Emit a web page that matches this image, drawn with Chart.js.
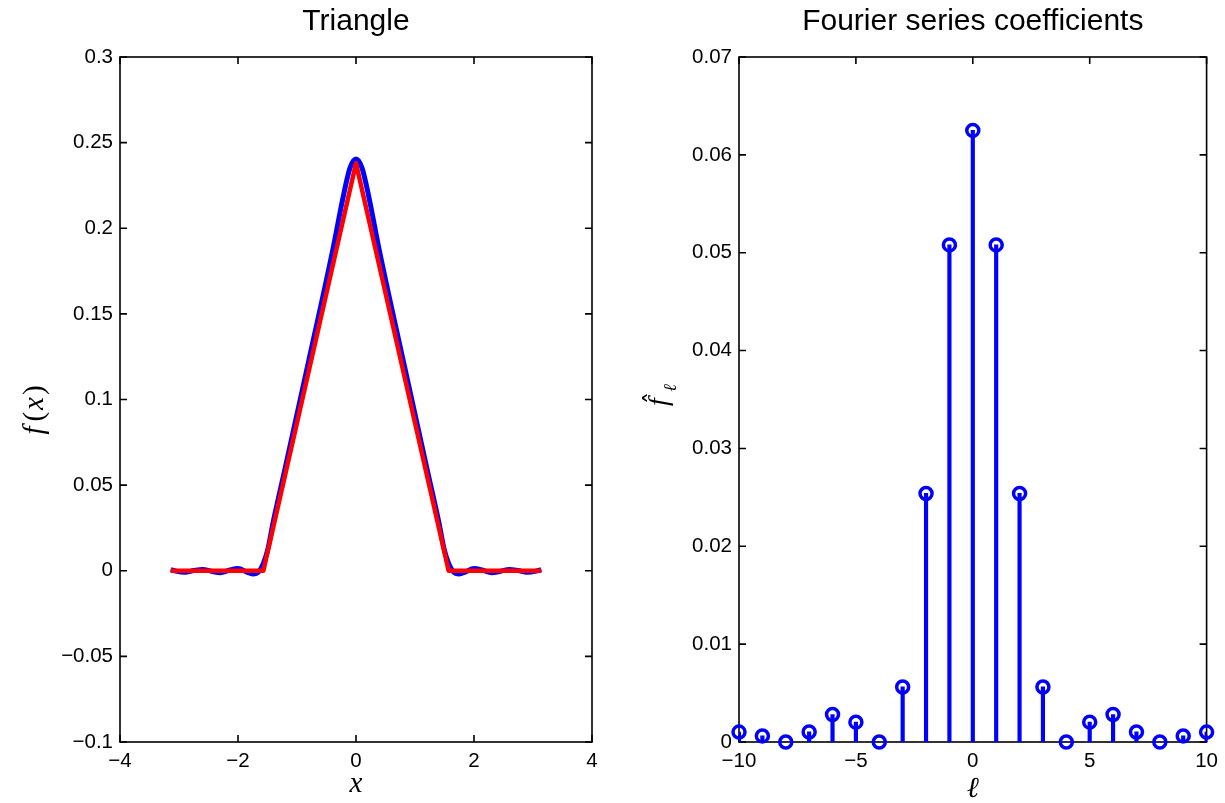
<!DOCTYPE html>
<html>
<head>
<meta charset="utf-8">
<script src="https://cdn.jsdelivr.net/npm/chart.js@4.4.1/dist/chart.umd.min.js"></script>
<style>
  body { margin: 0; background: #fff; }
  canvas { position: absolute; top: 0; }
  #left { left: 0; }
  #right { left: 612px; }
</style>
</head>
<body>
<canvas id="left" width="612" height="803"></canvas>
<canvas id="right" width="613" height="803"></canvas>
<script>
// --- values ---
// left panel: truncated Fourier series (blue) and the triangle itself (red)
const curveX = [-3.14, -3.05, -2.9, -2.75, -2.6, -2.45, -2.3, -2.15, -2.0, -1.85, -1.75, -1.65, -1.57, -1.5, -1.4, -1.2, -0.8, -0.4, -0.2, -0.1, 0,
                0.1, 0.2, 0.4, 0.8, 1.2, 1.4, 1.5, 1.57, 1.65, 1.75, 1.85, 2.0, 2.15, 2.3, 2.45, 2.6, 2.75, 2.9, 3.05, 3.14];
const curveY = [0.0007, -0.0002, -0.0009, 0.0001, 0.0008, -0.0003, -0.0011, 0.0003, 0.0013, -0.0008, -0.0019, -0.0006, 0.0043, 0.0117, 0.029, 0.060, 0.1227, 0.1863, 0.2212, 0.2354, 0.2404,
                0.2354, 0.2212, 0.1863, 0.1227, 0.060, 0.029, 0.0117, 0.0043, -0.0006, -0.0019, -0.0008, 0.0013, 0.0003, -0.0011, -0.0003, 0.0008, 0.0001, -0.0009, -0.0002, 0.0007];
const triX = [-3.14, -1.57, 0, 1.57, 3.14];
const triY = [0, 0, 0.238, 0, 0];

// right panel: Fourier coefficients
const ells = [-10, -9, -8, -7, -6, -5, -4, -3, -2, -1, 0, 1, 2, 3, 4, 5, 6, 7, 8, 9, 10];
const coeffs = [0.00101, 0.000625, 0, 0.00103, 0.00281, 0.00203, 0, 0.00563, 0.0254, 0.0508, 0.0625,
                0.0508, 0.0254, 0.00563, 0, 0.00203, 0.00281, 0.00103, 0, 0.000625, 0.00101];

const BLUE = "rgb(0, 0, 255)";
const RED = "rgb(255, 0, 0)";
const tickFont = { family: "'Liberation Sans', Arial, sans-serif", size: 20.5 };
const titleFont = { family: "'Liberation Sans', Arial, sans-serif", size: 30, weight: "normal", lineHeight: 1.2 };

function fmt(v) {
    return String(Math.round(v * 1000) / 1000).replace("-", "\u2212");
}

// MATLAB style box with inward ticks on all four sides
const matlabBox = {
    id: "matlabBox",
    beforeDatasetsDraw(chart) {
        const { ctx, chartArea: a, scales } = chart;
        ctx.save();
        ctx.strokeStyle = "#000";
        ctx.lineWidth = 1.6;
        ctx.strokeRect(a.left, a.top, a.right - a.left, a.bottom - a.top);
        ctx.beginPath();
        scales.x.ticks.forEach(t => {
            const px = scales.x.getPixelForValue(t.value);
            ctx.moveTo(px, a.bottom); ctx.lineTo(px, a.bottom - 7);
            ctx.moveTo(px, a.top); ctx.lineTo(px, a.top + 7);
        });
        scales.y.ticks.forEach(t => {
            const py = scales.y.getPixelForValue(t.value);
            ctx.moveTo(a.left, py); ctx.lineTo(a.left + 7, py);
            ctx.moveTo(a.right, py); ctx.lineTo(a.right - 7, py);
        });
        ctx.stroke();
        ctx.restore();
    }
};

// draw a row of text pieces with their own fonts, centred on (0,0)
function drawRuns(ctx, runs) {
    let total = 0;
    runs.forEach(r => { ctx.font = r.font; r.w = ctx.measureText(r.text).width; total += r.w + (r.gap || 0); });
    let x = -total / 2;
    runs.forEach(r => {
        ctx.font = r.font;
        ctx.fillText(r.text, x + (r.dx || 0), r.dy || 0);
        x += r.w + (r.gap || 0);
    });
}

const MATH_IT = "italic 29px 'Liberation Serif', 'DejaVu Serif', serif";
const MATH_RM = "29px 'Liberation Serif', 'DejaVu Serif', serif";

function axisScales(xMin, xMax, xStep, yMin, yMax, yStep, yWidth) {
    return {
        x: {
            type: "linear", min: xMin, max: xMax, offset: false,
            grid: { display: false, drawTicks: false, offset: false }, border: { display: false },
            ticks: { stepSize: xStep, font: tickFont, color: "#000", padding: 7, autoSkip: false, maxRotation: 0, callback: fmt },
            afterFit(s) { s.height = 61; }
        },
        y: {
            type: "linear", min: yMin, max: yMax,
            grid: { display: false, drawTicks: false }, border: { display: false },
            ticks: { stepSize: yStep, font: tickFont, color: "#000", padding: 7, autoSkip: false, callback: fmt },
            afterFit(s) { s.width = yWidth; }
        }
    };
}

// --- left: Triangle ---
new Chart(document.getElementById("left"), {
    type: "scatter",
    data: {
        datasets: [{
            label: "series",
            data: curveX.map((x, i) => ({ x: x, y: curveY[i] })),
            showLine: true,
            borderColor: BLUE,
            borderWidth: 5,
            borderJoinStyle: "round",
            pointRadius: 0,
            cubicInterpolationMode: "monotone",
            order: 2
        }, {
            label: "triangle",
            data: triX.map((x, i) => ({ x: x, y: triY[i] })),
            showLine: true,
            borderColor: RED,
            borderWidth: 4.5,
            borderJoinStyle: "round",
            pointRadius: 0,
            tension: 0,
            order: 1
        }]
    },
    options: {
        responsive: false,
        animation: false,
        layout: { padding: { left: 0, right: 20, top: 0, bottom: 0 } },
        scales: axisScales(-4, 4, 2, -0.1, 0.3, 0.05, 120),
        plugins: {
            legend: { display: false },
            tooltip: { enabled: false },
            title: { display: true, text: "Triangle", color: "#000", font: titleFont, fullSize: false, padding: { top: 4, bottom: 17 } }
        }
    },
    plugins: [matlabBox, {
        id: "labelsLeft",
        afterDraw(chart) {
            const { ctx, chartArea: a } = chart;
            ctx.save();
            ctx.fillStyle = "#000";
            ctx.textBaseline = "middle";
            ctx.translate((a.left + a.right) / 2, 784);
            drawRuns(ctx, [{ text: "x", font: MATH_IT }]);
            ctx.restore();
            ctx.save();
            ctx.fillStyle = "#000";
            ctx.textBaseline = "middle";
            ctx.translate(35, 410);
            ctx.rotate(-Math.PI / 2);
            drawRuns(ctx, [
                { text: "f", font: MATH_IT, gap: 5 },
                { text: "(", font: MATH_RM, gap: 2 },
                { text: "x", font: MATH_IT, gap: 2 },
                { text: ")", font: MATH_RM }
            ]);
            ctx.restore();
        }
    }]
});

// --- right: Fourier series coefficients (stem plot) ---
new Chart(document.getElementById("right"), {
    type: "scatter",
    data: {
        datasets: [{
            type: "scatter",
            label: "markers",
            data: ells.map((l, i) => ({ x: l, y: coeffs[i] })),
            pointStyle: "circle",
            pointRadius: 6,
            pointBorderWidth: 3.5,
            pointBorderColor: BLUE,
            pointBackgroundColor: "rgba(0,0,0,0)",
            clip: false,
            order: 1
        }, {
            type: "bar",
            label: "stems",
            data: ells.map((l, i) => ({ x: l, y: coeffs[i] })),
            backgroundColor: BLUE,
            borderWidth: 0,
            barThickness: 3.5,
            order: 2
        }]
    },
    options: {
        responsive: false,
        animation: false,
        layout: { padding: { left: 0, right: 15, top: 0, bottom: 0 } },
        scales: axisScales(-10, 10, 5, 0, 0.07, 0.01, 127),
        plugins: {
            legend: { display: false },
            tooltip: { enabled: false },
            title: { display: true, text: "Fourier series coefficients", color: "#000", font: titleFont, fullSize: false, padding: { top: 4, bottom: 17 } }
        }
    },
    plugins: [matlabBox, {
        id: "labelsRight",
        afterDraw(chart) {
            const { ctx, chartArea: a } = chart;
            ctx.save();
            ctx.fillStyle = "#000";
            ctx.textBaseline = "middle";
            ctx.translate((a.left + a.right) / 2, 789);
            drawRuns(ctx, [{ text: "\u2113", font: MATH_IT }]);
            ctx.restore();
            // rotated f-hat with subscript ell
            ctx.save();
            ctx.fillStyle = "#000";
            ctx.textAlign = "center";
            ctx.translate(48, 402);
            ctx.rotate(-Math.PI / 2);
            ctx.textBaseline = "middle";
            ctx.font = "italic 28px 'Liberation Serif', 'DejaVu Serif', serif";
            ctx.fillText("f", 0, 0);
            ctx.font = "italic 18px 'Liberation Serif', 'DejaVu Serif', serif";
            ctx.fillText("\u2113", 14, 11);
            ctx.textBaseline = "alphabetic";
            ctx.font = "26px 'DejaVu Sans', sans-serif";
            ctx.fillText("\u02C6", 4, 4);
            ctx.restore();
        }
    }]
});
</script>
</body>
</html>
